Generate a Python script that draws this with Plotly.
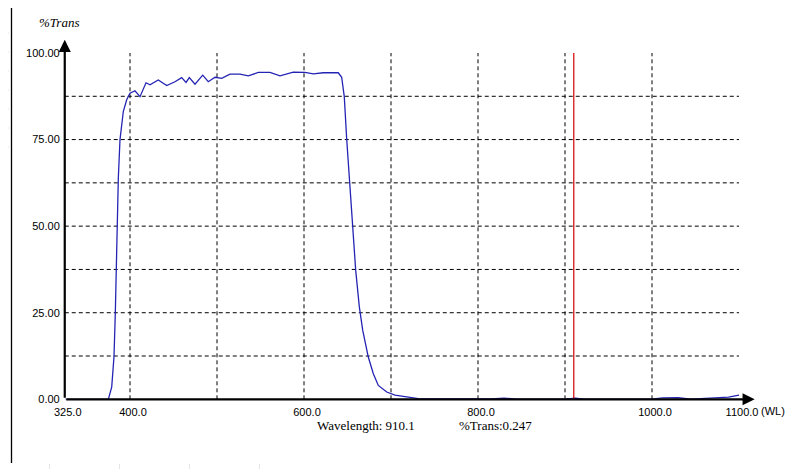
import plotly.graph_objects as go

# ---- data ----
wavelength = [325, 350, 375.1, 379.0, 381.6, 383.1, 384.7, 386.6, 388.5, 392.3, 396.2, 400.0,
              405.7, 411.5, 418.4, 423.0, 432.5, 442.2, 451.7, 459.4, 464.4, 468.2, 474.7,
              483.6, 490.0, 497.7, 505.4, 514.9, 526.4, 536.0, 547.5, 560.9, 572.4, 587.7,
              601.1, 610.7, 622.2, 639.4, 643.3, 646.3, 649.1, 652.9, 656.0, 659.4, 663.6,
              667.5, 673.9, 679.7, 685.4, 695.1, 704.6, 718.0, 731.4, 760, 800, 815, 830,
              845, 900, 912, 922, 1000, 1012, 1030, 1045, 1075, 1088, 1100]
trans = [0.0, 0.0, 0.0, 3.6, 12.3, 24.8, 46.0, 64.0, 75.0, 83.1, 86.5, 88.4,
         89.1, 87.4, 91.4, 90.8, 92.2, 90.6, 91.7, 92.9, 91.5, 92.9, 91.0,
         93.6, 91.7, 93.0, 92.7, 93.9, 93.9, 93.4, 94.4, 94.4, 93.4, 94.5,
         94.4, 94.0, 94.3, 94.3, 93.0, 87.4, 75.0, 62.3, 49.8, 37.3, 26.7,
         19.9, 12.2, 7.4, 4.0, 2.1, 1.2, 0.7, 0.2, 0.1, 0.05, 0.1, 0.35,
         0.05, 0.05, 0.3, 0.05, 0.05, 0.4, 0.45, 0.05, 0.3, 0.6, 1.2]

x_tick_vals = [325, 400, 600, 800, 1000, 1100]
x_tick_text = ["325.0", "400.0", "600.0", "800.0", "1000.0", "1100.0"]
y_tick_vals = [0, 25, 50, 75, 100]
y_tick_text = ["0.00", "25.00", "50.00", "75.00", "100.00"]
v_grid = [400, 500, 600, 700, 800, 900, 1000]
h_grid = [12.5, 25, 37.5, 50, 62.5, 75, 87.5]
cursor_wl = 910.1
cursor_trans = 0.247

# ---- geometry (screen pixels; the page body adds an 8px margin) ----
OFF = 8
W, H = 801 - OFF, 469 - OFF
X_RANGE = [325, 1120]
Y_RANGE = [0, 104]
x0_px, px_per_nm = 64.75, 0.87
y0_px, px_per_pct = 399.3, 3.463


def px(xs):
    return (xs - OFF) / W


def py(ys):
    return (H - (ys - OFF)) / H


xd = [px(x0_px), px(x0_px + (X_RANGE[1] - X_RANGE[0]) * px_per_nm)]
yd = [py(y0_px), py(y0_px - Y_RANGE[1] * px_per_pct)]

fig = go.Figure()
fig.add_trace(go.Scatter(x=wavelength, y=trans, mode="lines",
                         line=dict(color="#2424b4", width=1.3), hoverinfo="skip"))

shapes = []
dash = "4px,3px"
for v in v_grid:
    shapes.append(dict(type="line", xref="x", yref="y", x0=v, x1=v, y0=0, y1=100,
                       line=dict(color="black", width=1, dash=dash), layer="below"))
for h in h_grid:
    shapes.append(dict(type="line", xref="x", yref="y", x0=325, x1=1100, y0=h, y1=h,
                       line=dict(color="black", width=1, dash=dash), layer="below"))
shapes.append(dict(type="line", xref="x", yref="y", x0=cursor_wl, x1=cursor_wl, y0=0, y1=100,
                   line=dict(color="#d40000", width=1.2)))
# window frame line at left
shapes.append(dict(type="line", xref="paper", yref="paper", x0=px(11.5), x1=px(11.5),
                   y0=py(463), y1=1, line=dict(color="black", width=1.3)))
for k in range(1, 8):
    yy = 14 + 19 * k
    shapes.append(dict(type="line", xref="paper", yref="paper", x0=px(8), x1=px(9),
                       y0=py(yy), y1=py(yy), line=dict(color="#e4e4e4", width=1)))
for k in range(4):
    xx = 49.5 + 70 * k
    shapes.append(dict(type="line", xref="paper", yref="paper", x0=px(xx), x1=px(xx),
                       y0=py(469), y1=py(464), line=dict(color="#e4e4e4", width=1)))

annotations = [
    # axes with arrows
    dict(x=X_RANGE[1] - 2, y=0, ax=325, ay=0, xref="x", yref="y", axref="x", ayref="y",
         showarrow=True, arrowhead=2, arrowsize=1.1, arrowwidth=2.2, arrowcolor="black", text=""),
    dict(x=325, y=Y_RANGE[1] - 0.2, ax=325, ay=0, xref="x", yref="y", axref="x", ayref="y",
         showarrow=True, arrowhead=2, arrowsize=1.1, arrowwidth=2.2, arrowcolor="black", text=""),
    dict(x=px(59), y=py(23), xref="paper", yref="paper", showarrow=False,
         xanchor="center", yanchor="middle",
         text="<i>%Trans</i>", font=dict(family="Liberation Serif", size=13, color="black")),
    dict(x=px(773), y=py(411), xref="paper", yref="paper", showarrow=False,
         xanchor="center", yanchor="middle",
         text="(WL)", font=dict(family="Liberation Sans", size=11, color="black")),
    dict(x=px(366), y=py(425), xref="paper", yref="paper", showarrow=False,
         xanchor="center", yanchor="middle",
         text=f"Wavelength: {cursor_wl:.1f}", font=dict(family="Liberation Serif", size=13, color="black")),
    dict(x=px(495), y=py(425), xref="paper", yref="paper", showarrow=False,
         xanchor="center", yanchor="middle",
         text=f"%Trans:{cursor_trans:.3f}", font=dict(family="Liberation Serif", size=13, color="black")),
]

tick_font = dict(family="Liberation Sans", size=11, color="black")
fig.update_layout(
    width=W, height=H, margin=dict(l=0, r=0, t=0, b=0, autoexpand=False),
    paper_bgcolor="white", plot_bgcolor="white", showlegend=False,
    shapes=shapes, annotations=annotations,
    xaxis=dict(range=X_RANGE, domain=xd, showgrid=False, zeroline=False, showline=False,
               automargin=False,
               tickmode="array", tickvals=x_tick_vals, ticktext=x_tick_text, ticks="",
               tickfont=tick_font, ticklabelshift=3, ticklabelstandoff=5),
    yaxis=dict(range=Y_RANGE, domain=yd, showgrid=False, zeroline=False, showline=False,
               automargin=False,
               tickmode="array", tickvals=y_tick_vals, ticktext=y_tick_text, ticks="",
               tickfont=tick_font, ticklabelstandoff=4),
)
fig.write_html("out.html")
